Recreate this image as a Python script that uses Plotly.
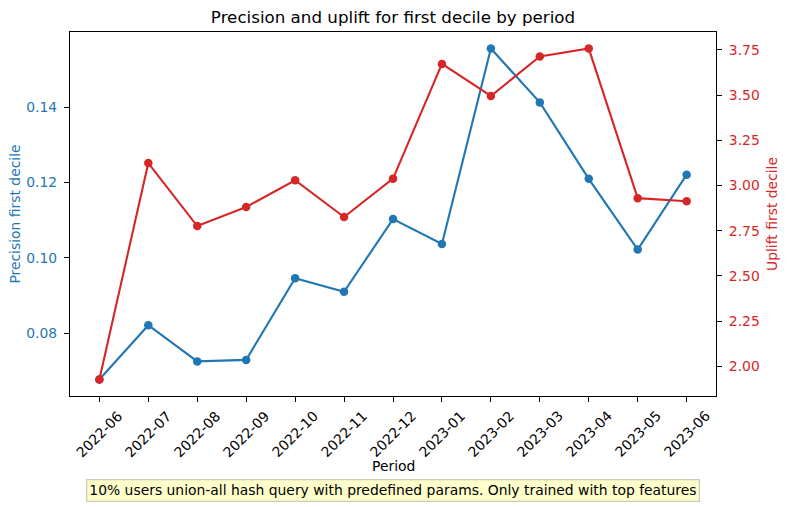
import plotly.graph_objects as go

periods = ["2022-06", "2022-07", "2022-08", "2022-09", "2022-10", "2022-11", "2022-12",
           "2023-01", "2023-02", "2023-03", "2023-04", "2023-05", "2023-06"]
precision = [0.0677, 0.0821, 0.0725, 0.0729, 0.0946, 0.0910, 0.1103,
             0.1037, 0.1556, 0.1413, 0.1210, 0.1022, 0.1221]
uplift = [1.928, 3.124, 2.776, 2.881, 3.029, 2.826, 3.038,
          3.672, 3.495, 3.713, 3.757, 2.930, 2.913]

left_ticks = [0.08, 0.10, 0.12, 0.14]
right_ticks = [2.00, 2.25, 2.50, 2.75, 3.00, 3.25, 3.50, 3.75]

BLUE = "#1f77b4"
RED = "#d62728"
FONT = "DejaVu Sans"
FS = 13.9


def padded(vals, frac=0.05):
    lo, hi = min(vals), max(vals)
    m = (hi - lo) * frac
    return [lo - m, hi + m]


n = len(periods)
fig = go.Figure()
fig.add_trace(go.Scatter(x=periods, y=precision, mode="lines+markers",
                         line=dict(color=BLUE, width=2.1),
                         marker=dict(color=BLUE, size=8.5),
                         yaxis="y", showlegend=False))
fig.add_trace(go.Scatter(x=periods, y=uplift, mode="lines+markers",
                         line=dict(color=RED, width=2.1),
                         marker=dict(color=RED, size=8.5),
                         yaxis="y2", showlegend=False))

annotations = []
for p in periods:
    annotations.append(dict(x=p, y=0, xref="x", yref="paper", text=p,
                            textangle=-45, showarrow=False, xanchor="center",
                            yanchor="top", yshift=-9,
                            font=dict(family=FONT, size=FS, color="black")))
annotations.append(dict(x=0.5, y=0, xref="paper", yref="paper", text="Period",
                        showarrow=False, xanchor="center", yanchor="middle",
                        yshift=-70, font=dict(family=FONT, size=FS, color="black")))
annotations.append(dict(x=0.5, y=0, xref="paper", yref="paper",
                        text="10% users union-all hash query with predefined params. Only trained with top features",
                        showarrow=False, xanchor="center", yanchor="middle",
                        yshift=-94, bgcolor="rgba(255,255,0,0.2)",
                        bordercolor="rgba(0,0,0,0.2)", borderwidth=1.3, borderpad=2,
                        font=dict(family=FONT, size=FS, color="black")))

fig.update_layout(
    width=790, height=507,
    margin=dict(l=70, r=74, t=32, b=111, autoexpand=False),
    paper_bgcolor="white", plot_bgcolor="white",
    font=dict(family=FONT, size=FS, color="black"),
    title=dict(text="Precision and uplift for first decile by period",
               x=0.4975, xanchor="center", y=1 - 17 / 507, yanchor="middle",
               automargin=False,
               font=dict(family=FONT, size=16.7, color="black")),
    xaxis=dict(type="category", range=[-0.6, n - 0.4], showgrid=False,
               automargin=False,
               showline=True, linecolor="black", linewidth=1.1, mirror=True,
               ticks="outside", ticklen=5, tickcolor="black", tickwidth=1.1,
               showticklabels=False, zeroline=False),
    yaxis=dict(range=padded(precision), tickvals=left_ticks, tickformat=".2f",
               showgrid=False, zeroline=False, automargin=False,
               showline=True, linecolor="black", linewidth=1.1, mirror=True,
               ticks="outside", ticklen=5, tickcolor="black", tickwidth=1.1,
               ticklabelstandoff=4,
               tickfont=dict(family=FONT, size=FS, color=BLUE),
               title=dict(text="Precision first decile", standoff=2,
                          font=dict(family=FONT, size=FS, color=BLUE))),
    yaxis2=dict(range=padded(uplift), tickvals=right_ticks, tickformat=".2f",
                overlaying="y", side="right", showgrid=False, zeroline=False,
                automargin=False,
                showline=True, linecolor="black", linewidth=1.1,
                ticks="outside", ticklen=5, tickcolor="black", tickwidth=1.1,
                ticklabelstandoff=4,
                tickfont=dict(family=FONT, size=FS, color=RED),
                title=dict(text="Uplift first decile", standoff=8,
                           font=dict(family=FONT, size=FS, color=RED))),
    annotations=annotations,
)

fig.write_html("out.html", config={"displayModeBar": False},
               post_script="document.body.style.margin='0';document.body.style.overflow='hidden';")
